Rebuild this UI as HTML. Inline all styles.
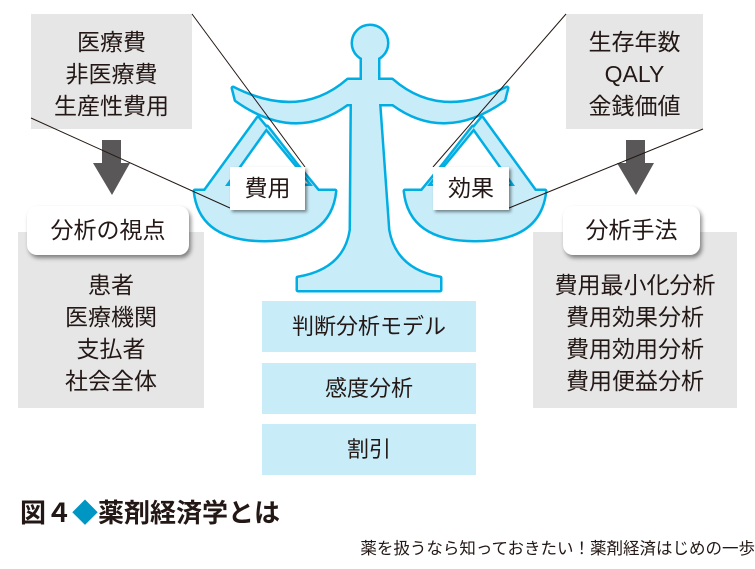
<!DOCTYPE html>
<html><head><meta charset="utf-8"><style>
body{margin:0;width:755px;height:569px;background:#fff;overflow:hidden;position:relative;font-family:"Liberation Sans","Noto Sans CJK JP",sans-serif;color:#231815}
.a{position:absolute}
.g{background:#e6e6e6}
.t{text-align:center;font-size:23px;line-height:32px}
.lb{background:#fff;border-radius:10px;box-shadow:2px 3px 4px rgba(0,0,0,.45);text-align:center;font-size:23px;line-height:49px}
.c{background:#c9ecf9;text-align:center;font-size:22px;line-height:51px}
</style></head><body>
<div class="a g t" style="left:31px;top:14px;width:161px;height:115px;padding-top:12px;box-sizing:border-box">医療費<br>非医療費<br>生産性費用</div>
<div class="a g t" style="left:566px;top:14px;width:137px;height:115px;padding-top:12px;box-sizing:border-box">生存年数<br>QALY<br>金銭価値</div>
<div class="a g t" style="left:18px;top:232px;width:186px;height:176px;padding-top:37px;box-sizing:border-box">患者<br>医療機関<br>支払者<br>社会全体</div>
<div class="a g t" style="left:533px;top:232px;width:204px;height:176px;padding-top:37px;box-sizing:border-box">費用最小化分析<br>費用効果分析<br>費用効用分析<br>費用便益分析</div>
<div class="a lb" style="left:27px;top:206px;width:162px;height:49px">分析の視点</div>
<div class="a lb" style="left:563px;top:206px;width:137px;height:49px">分析手法</div>
<div class="a c" style="left:262px;top:301px;width:214px;height:51px">判断分析モデル</div>
<div class="a c" style="left:262px;top:363px;width:214px;height:51px">感度分析</div>
<div class="a c" style="left:262px;top:424px;width:214px;height:51px">割引</div>
<svg class="a" style="left:0;top:0" width="755" height="569">
<g fill="#595757">
<path d="M102,140h19v23h9l-18,32l-19,-32h9z"/>
<path d="M626,140h19v23h9l-18,32l-19,-32h9z"/>
</g>
<g stroke="#00aee3" stroke-width="5" fill="#c9ecf9" fill-rule="evenodd" stroke-linejoin="round">
<circle cx="370" cy="43" r="17"/>
<rect x="362" y="55" width="16" height="27"/>
<path d="M233,88 Q300,122 348,80 L392,80 Q440,122 507,88 L504,100 Q445,142 393,104 L347,104 Q295,142 236,100 Z"/>
<path d="M352,104 L379,104 L388,230 Q395,270 440,278 L440,290 L298,290 L298,278 Q345,270 351,230 Z"/>
<path d="M258,118 L205,191 L318,191 Z M267,127 L225,186 L313,186 Z"/>
<path d="M482,118 L535,191 L422,191 Z M473,127 L515,186 L427,186 Z"/>
<path d="M195,191 L335,191 Q330,240 265,240 Q200,240 195,191 Z"/>
<path d="M405,191 L545,191 Q540,240 475,240 Q410,240 405,191 Z"/>
</g>
<g stroke="none" fill="#c9ecf9" fill-rule="evenodd">
<circle cx="370" cy="43" r="17"/>
<rect x="362" y="55" width="16" height="27"/>
<path d="M233,88 Q300,122 348,80 L392,80 Q440,122 507,88 L504,100 Q445,142 393,104 L347,104 Q295,142 236,100 Z"/>
<path d="M352,104 L379,104 L388,230 Q395,270 440,278 L440,290 L298,290 L298,278 Q345,270 351,230 Z"/>
<path d="M258,118 L205,191 L318,191 Z M267,127 L225,186 L313,186 Z"/>
<path d="M482,118 L535,191 L422,191 Z M473,127 L515,186 L427,186 Z"/>
<path d="M195,191 L335,191 Q330,240 265,240 Q200,240 195,191 Z"/>
<path d="M405,191 L545,191 Q540,240 475,240 Q410,240 405,191 Z"/>
</g>
<g stroke="#231815" stroke-width="1">
<line x1="192" y1="14" x2="305" y2="167"/>
<line x1="31" y1="118" x2="230" y2="208"/>
<line x1="566" y1="14" x2="433" y2="167"/>
<line x1="509" y1="208" x2="703" y2="129"/>
</g>
</svg>
<div class="a" style="left:230px;top:167px;width:75px;height:43px;background:#fff;box-shadow:2px 2px 3px rgba(0,0,0,.45);text-align:center;font-size:23px;line-height:43px">費用</div>
<div class="a" style="left:433px;top:167px;width:76px;height:43px;background:#fff;box-shadow:2px 2px 3px rgba(0,0,0,.45);text-align:center;font-size:23px;line-height:43px">効果</div>
<div class="a" style="left:20px;top:497px;font-size:26px;font-weight:bold;line-height:32px;white-space:nowrap">図４<span style="color:#0096c4">◆</span>薬剤経済学とは</div>
<div class="a" style="right:0;top:538px;font-size:16.5px;line-height:22px;white-space:nowrap">薬を扱うなら知っておきたい！薬剤経済はじめの一歩</div>
</body></html>
